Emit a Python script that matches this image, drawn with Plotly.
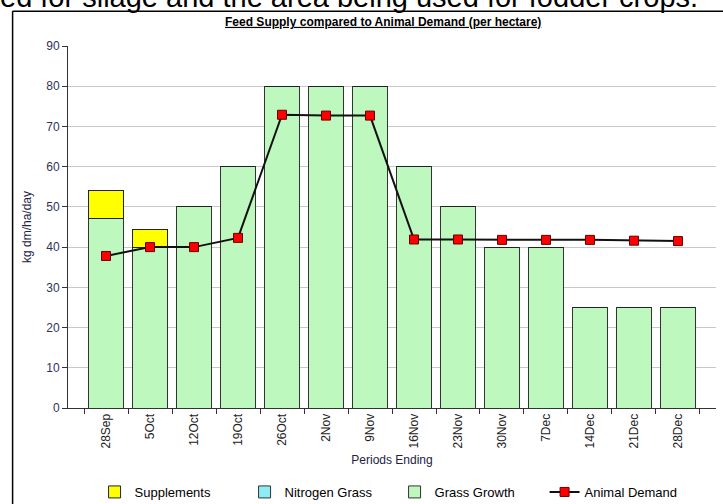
import plotly.graph_objects as go

categories = ["28Sep", "5Oct", "12Oct", "19Oct", "26Oct", "2Nov", "9Nov", "16Nov",
              "23Nov", "30Nov", "7Dec", "14Dec", "21Dec", "28Dec"]
grass_growth = [47, 40, 50, 60, 80, 80, 80, 60, 50, 40, 40, 25, 25, 25]
nitrogen_grass = [0, 0, 0, 0, 0, 0, 0, 0, 0, 0, 0, 0, 0, 0]
supplements = [7.2, 4.5, 0, 0, 0, 0, 0, 0, 0, 0, 0, 0, 0, 0]
animal_demand = [37.8, 40.0, 40.0, 42.3, 72.9, 72.7, 72.7, 41.9, 41.9, 41.8, 41.8, 41.8, 41.6, 41.5]
y_ticks = [0, 10, 20, 30, 40, 50, 60, 70, 80, 90]

FONT = "Liberation Sans, Arial, sans-serif"

fig = go.Figure()
fig.add_trace(go.Bar(
    x=categories, y=grass_growth, name="Grass Growth", legendrank=3,
    marker=dict(color="#b8f6b8", line=dict(color="#333333", width=1),
                pattern=dict(shape=".", fgcolor="#2ddd2d", bgcolor="#d0fbd0", size=2, solidity=0.3)),
))
fig.add_trace(go.Bar(
    x=categories, y=nitrogen_grass, name="Nitrogen Grass", legendrank=2,
    marker=dict(color="#66e6f0", line=dict(color="#333333", width=1),
                pattern=dict(shape=".", fgcolor="#33ccdd", bgcolor="#99f0f8", size=2, solidity=0.3)),
))
fig.add_trace(go.Bar(
    x=categories, y=supplements, name="Supplements", legendrank=1,
    marker=dict(color="#ffff00", line=dict(color="#222222", width=1)),
))
fig.add_trace(go.Scatter(
    x=categories, y=animal_demand, name="Animal Demand", legendrank=4, mode="lines+markers",
    line=dict(color="#111111", width=2),
    marker=dict(symbol="square", size=9, color="#ff0000", line=dict(color="#660000", width=1)),
))

fig.update_layout(
    width=723, height=504,
    barmode="stack", bargap=0.22,
    paper_bgcolor="white", plot_bgcolor="white",
    margin=dict(l=68, r=7, t=46, b=96, autoexpand=False),
    font=dict(family=FONT, size=12, color="#000000"),
    showlegend=True,
    legend=dict(orientation="h", x=0.041, xanchor="left", y=-0.232, yanchor="middle",
                font=dict(size=13, family=FONT), traceorder="normal",
                entrywidth=105, entrywidthmode="pixels"),
    title=dict(text="<b><u>Feed Supply compared to Animal Demand (per hectare)</u></b>",
               x=0.53, xanchor="center", y=0.957, yanchor="middle",
               font=dict(size=12, family=FONT, color="#000000")),
)

fig.update_xaxes(
    type="category", tickangle=-90, tickson="boundaries", ticks="outside", ticklen=5,
    tickcolor="#333333", showline=True, linecolor="#333333", linewidth=1,
    showgrid=False, automargin=False, tickfont=dict(size=12, family=FONT, color="#222222"),
    title=dict(text="Periods Ending", font=dict(size=12, family=FONT, color="#222244"), standoff=8),
)
fig.update_yaxes(
    range=[0, 90], tickvals=y_ticks, ticks="outside", ticklen=5, tickcolor="#333333",
    showline=True, linecolor="#333333", linewidth=1, showgrid=True, gridcolor="#c8c8c8",
    gridwidth=1, zeroline=False, automargin=False, tickfont=dict(size=12, family=FONT, color="#333355"),
    title=dict(text="kg dm/ha/day", font=dict(size=12, family=FONT, color="#222244"), standoff=12),
)

# document frame around chart
fig.add_shape(type="line", xref="paper", yref="paper", x0=-0.0855, x1=1.02, y0=1.096, y1=1.096,
              line=dict(color="#000000", width=1.5))
fig.add_shape(type="line", xref="paper", yref="paper", x0=-0.0855, x1=-0.0855, y0=1.096, y1=-0.3,
              line=dict(color="#000000", width=1.5))

# partially visible document text above the chart
fig.add_annotation(text="ed for silage and the area being used for fodder crops.",
                   xref="paper", yref="paper", x=-0.108, xanchor="left", y=1.087, yanchor="bottom",
                   showarrow=False, font=dict(size=29, family=FONT, color="#000000"))

fig.write_html("out.html", config={"displayModeBar": False},
               post_script="document.body.style.margin='0';document.body.style.overflow='hidden';")
